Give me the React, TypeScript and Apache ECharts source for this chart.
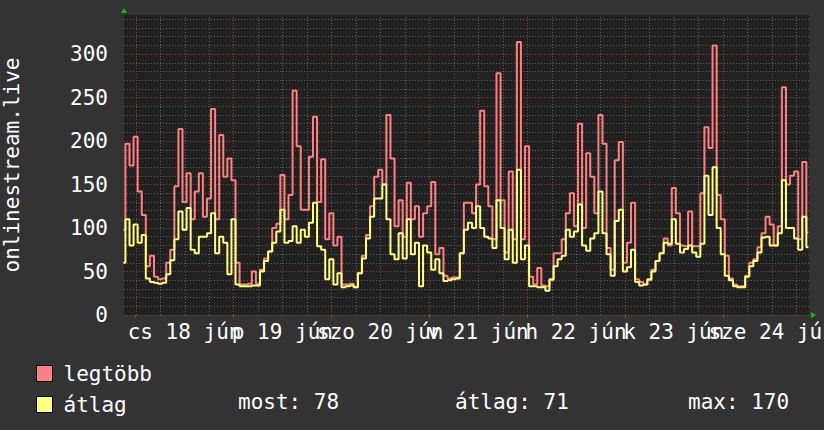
import React, { useEffect, useRef } from 'react';
import * as echarts from 'echarts';

// hours relative to 18 jún 00:00, starting at -3 (hourly)
const START_HOUR = -3;
const maxValues = [
  98, 197, 172, 205, 142, 115, 56, 68, 44, 41, 42, 60, 75, 148, 214, 130, 163, 110, 142, 163, 113, 134, 237, 110, 207, 159, 180, 155,
  60, 35, 35, 36, 50, 36, 52, 65, 73, 100, 105, 161, 110, 138, 258, 194, 121, 121, 182, 228, 130, 179, 87, 117, 80, 90,
  35, 35, 36, 32, 48, 68, 92, 125, 159, 167, 150, 230, 180, 102, 132, 90, 152, 110, 125, 90, 117, 125, 153, 70, 77, 45, 42, 43, 43, 71,
  129, 129, 117, 150, 235, 148, 125, 87, 278, 132, 72, 165, 87, 314, 87, 194, 44, 35, 54, 34, 33, 40, 71, 71, 87, 117, 140, 102,
  220, 100, 186, 159, 117, 230, 197, 77, 52, 178, 199, 60, 83, 129, 41, 38, 35, 40, 52, 62, 71, 88, 80, 146, 117, 80, 79, 119, 79,
  79, 140, 216, 192, 310, 138, 110, 68, 42, 35, 33, 33, 45, 60, 64, 78, 94, 113, 104, 80, 102, 262, 150, 160, 165, 87, 176, 95,
];
const avgValues = [
  60, 110, 80, 104, 83, 92, 42, 38, 37, 36, 37, 47, 63, 87, 119, 98, 123, 75, 71, 90, 90, 94, 117, 71, 90, 83, 47, 110,
  35, 33, 33, 33, 34, 34, 50, 62, 73, 83, 96, 121, 83, 85, 102, 83, 98, 90, 106, 129, 79, 75, 41, 64, 35, 48,
  32, 33, 34, 32, 48, 65, 88, 113, 134, 134, 150, 110, 70, 64, 94, 65, 110, 70, 83, 33, 80, 72, 52, 64, 48, 39, 40, 41, 42, 71,
  98, 106, 100, 125, 100, 90, 88, 77, 132, 100, 64, 98, 60, 167, 64, 80, 33, 33, 32, 32, 28, 41, 56, 64, 68, 98, 90, 96,
  127, 80, 74, 88, 94, 142, 94, 70, 45, 108, 121, 50, 55, 75, 38, 34, 35, 41, 50, 62, 71, 83, 82, 110, 82, 72, 76, 80, 72,
  67, 82, 160, 115, 170, 100, 70, 45, 40, 33, 32, 32, 44, 56, 62, 72, 89, 90, 80, 80, 94, 155, 100, 100, 88, 75, 113, 78,
];

const seriesNames = ['legtöbb', 'átlag'];
const xLabels = ['cs 18 jún', 'p 19 jún', 'szo 20 jún', 'v 21 jún', 'h 22 jún', 'k 23 jún', 'sze 24 jún'];
const minorHours = [0, 6, 12, 18, 24, 30, 36, 42, 48, 54, 60, 66, 72, 78, 84, 90, 96, 102, 108, 114, 120, 126, 132, 138, 144, 150, 156, 162];
const dayHours = [0, 24, 48, 72, 96, 120, 144];
const labelHoursEven = [12, 60, 108, 156];
const labelHoursOdd = [36, 84, 132];
const statLabels = ['most: 78', 'átlag: 71', 'max: 170'];
const yTitle = 'onlinestream.live';

const X_MIN = -2.85;
const X_MAX = 165.15;
const Y_MAX = 345;

const FONT = 'DejaVu Sans Mono';
const W = 824;
const H = 430;
const GRID_LEFT = 124;
const GRID_TOP = 15;
const GRID_RIGHT = 15;
const GRID_BOTTOM = 115;

const MINOR_COLOR = '#5e5e5e';
const MAJOR_COLOR = '#8a4242';

export default function App() {
  const ref = useRef<HTMLDivElement>(null);
  useEffect(() => {
    if (!ref.current) return;
    const chart = echarts.init(ref.current, undefined, { renderer: 'svg' });
    const maxData = maxValues.map((v, i) => [START_HOUR + i, v]);
    const avgData = avgValues.map((v, i) => [START_HOUR + i, v]);
    const dotted = [1, 2];
    const plotBottom = H - GRID_BOTTOM;
    const plotRight = W - GRID_RIGHT;
    const labelAxis = (values: number[], ticks: boolean) => ({
      type: 'value',
      min: X_MIN,
      max: X_MAX,
      position: 'bottom',
      axisLine: { show: false },
      axisTick: ticks
        ? { show: true, length: 3, lineStyle: { color: MAJOR_COLOR }, customValues: dayHours }
        : { show: false },
      splitLine: { show: false },
      axisLabel: {
        show: true,
        customValues: values,
        showMinLabel: true,
        showMaxLabel: true,
        hideOverlap: false,
        color: '#ffffff',
        fontFamily: FONT,
        fontSize: 21,
        margin: 6,
        formatter: (v: number) => xLabels[Math.round((v - 12) / 24)] ?? '',
      },
    });
    const gridLineSeries = (name: string, hours: number[], color: string) => ({
      name,
      type: 'custom',
      silent: true,
      z: 1,
      data: hours.map((h) => [h, 0]),
      encode: { x: 0, y: 1 },
      renderItem: (_params: any, api: any) => {
        const h = api.value(0);
        const p0 = api.coord([h, 0]);
        const p1 = api.coord([h, Y_MAX]);
        const x = Math.round(p0[0]) + 0.5;
        return {
          type: 'line',
          shape: { x1: x, y1: p0[1], x2: x, y2: p1[1] },
          style: { stroke: color, lineWidth: 1, lineDash: dotted },
        };
      },
    });
    chart.setOption({
      animation: false,
      backgroundColor: '#333333',
      textStyle: { fontFamily: FONT },
      grid: {
        left: GRID_LEFT,
        top: GRID_TOP,
        right: GRID_RIGHT,
        bottom: GRID_BOTTOM,
        show: true,
        backgroundColor: '#212121',
        borderWidth: 0,
        containLabel: false,
        outerBoundsMode: 'none',
      },
      legend: {
        orient: 'vertical',
        left: 31,
        top: 358,
        itemWidth: 16,
        itemHeight: 16,
        itemGap: 10,
        icon: 'rect',
        selectedMode: false,
        itemStyle: { borderColor: '#000000', borderWidth: 1 },
        lineStyle: { opacity: 0 },
        textStyle: { color: '#ffffff', fontFamily: FONT, fontSize: 21, padding: [0, 0, 0, 6] },
        data: seriesNames,
      },
      xAxis: [labelAxis(labelHoursEven, true), labelAxis(labelHoursOdd, false)],
      yAxis: [
        {
          type: 'value',
          min: 0,
          max: Y_MAX,
          interval: 10,
          axisLine: { show: false },
          axisTick: { show: false },
          axisLabel: { show: false },
          splitLine: { show: true, showMaxLine: false, lineStyle: { color: MINOR_COLOR, type: dotted, width: 1 } },
        },
        {
          type: 'value',
          min: 0,
          max: Y_MAX,
          interval: 50,
          position: 'left',
          name: yTitle,
          nameLocation: 'middle',
          nameGap: 102,
          nameRotate: 90,
          nameTextStyle: { color: '#ffffff', fontFamily: FONT, fontSize: 21 },
          axisLine: { show: false },
          axisTick: { show: false },
          axisLabel: { color: '#ffffff', fontFamily: FONT, fontSize: 21, margin: 16, showMaxLabel: false },
          splitLine: { show: true, showMaxLine: false, lineStyle: { color: MAJOR_COLOR, type: dotted, width: 1 } },
        },
      ],
      series: [
        gridLineSeries('grid-minor', minorHours, MINOR_COLOR),
        gridLineSeries('grid-major', dayHours, MAJOR_COLOR),
        {
          name: seriesNames[0],
          type: 'line',
          data: maxData,
          step: 'middle',
          symbol: 'none',
          lineStyle: { color: '#ff8080', width: 2 },
          itemStyle: { color: '#ff8080' },
          z: 3,
        },
        {
          name: seriesNames[1],
          type: 'line',
          data: avgData,
          step: 'middle',
          symbol: 'none',
          lineStyle: { color: '#ffff80', width: 2 },
          itemStyle: { color: '#ffff80' },
          z: 4,
        },
      ],
      graphic: [
        {
          type: 'polygon',
          shape: { points: [[GRID_LEFT - 3, GRID_TOP - 2], [GRID_LEFT + 3, GRID_TOP - 2], [GRID_LEFT, GRID_TOP - 7]] },
          style: { fill: '#00c800' },
        },
        {
          type: 'polygon',
          shape: { points: [[plotRight + 2, plotBottom - 3], [plotRight + 2, plotBottom + 3], [plotRight + 7, plotBottom]] },
          style: { fill: '#00c800' },
        },
        {
          type: 'text',
          x: 238,
          y: 402,
          style: { text: statLabels[0], fill: '#ffffff', font: `21px "${FONT}"`, verticalAlign: 'middle' },
        },
        {
          type: 'text',
          x: 455,
          y: 402,
          style: { text: statLabels[1], fill: '#ffffff', font: `21px "${FONT}"`, verticalAlign: 'middle' },
        },
        {
          type: 'text',
          x: 688,
          y: 402,
          style: { text: statLabels[2], fill: '#ffffff', font: `21px "${FONT}"`, verticalAlign: 'middle' },
        },
      ],
    });
    return () => chart.dispose();
  }, []);
  return <div ref={ref} style={{ width: W, height: H, position: 'absolute', left: 0, top: 0 }} />;
}
